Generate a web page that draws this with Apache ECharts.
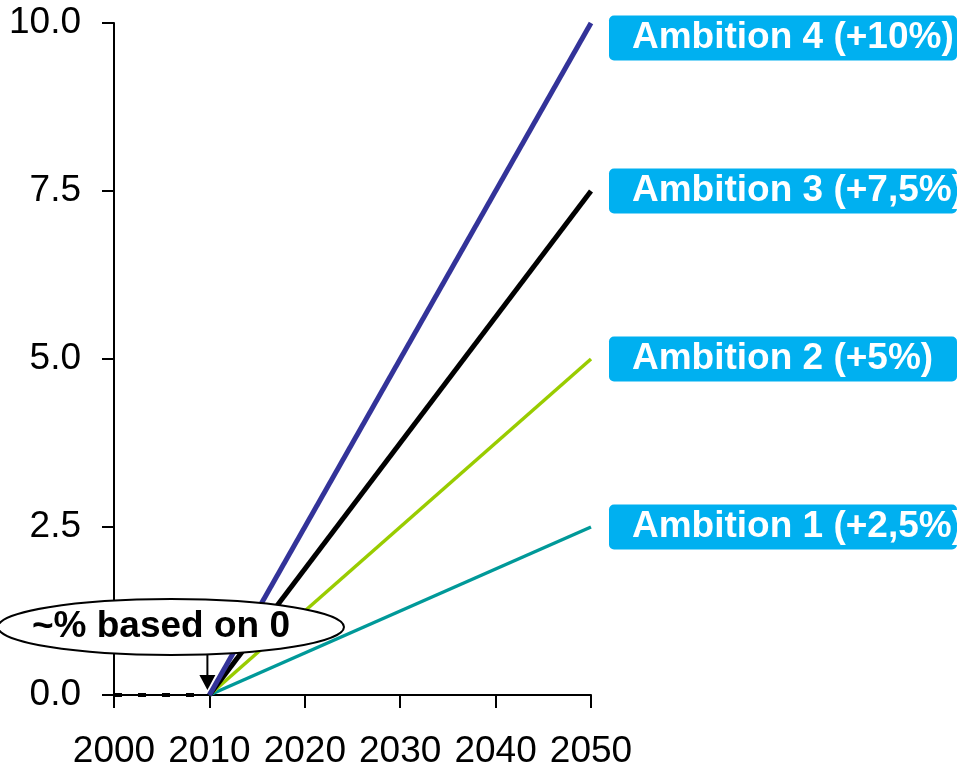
<!DOCTYPE html>
<html>
<head>
<meta charset="utf-8">
<script src="https://cdn.jsdelivr.net/npm/echarts@6/dist/echarts.min.js"></script>
<style>
  html, body { margin: 0; padding: 0; background: #fff; }
  #chart { width: 957px; height: 770px; }
</style>
</head>
<body>
<div id="chart"></div>
<script>
// Scenario endpoints: each ambition grows linearly from 0 in 2010
const startYear = 2010;
const endYear = 2050;
const ambitionNames = ['Ambition 1 (+2,5%)', 'Ambition 2 (+5%)', 'Ambition 3 (+7,5%)', 'Ambition 4 (+10%)'];
const ambitionEndValues = [2.5, 5, 7.5, 10];
const ambitionColors = ['#009999', '#99CC00', '#000000', '#333399'];
const ambitionWidths = [3.5, 3.5, 5, 5];
// Flat baseline before the start year
const baselineYears = [2000, 2010];
const baselineValues = [0, 0];
const xTicks = [2000, 2010, 2020, 2030, 2040, 2050];
const yTicks = [0, 2.5, 5, 7.5, 10];

const FONT = '"Liberation Sans", Arial, sans-serif';
const chart = echarts.init(document.getElementById('chart'));

const series = ambitionNames.map((name, i) => ({
  name,
  type: 'line',
  data: [[startYear, 0], [endYear, ambitionEndValues[i]]],
  symbol: 'none',
  lineStyle: { color: ambitionColors[i], width: ambitionWidths[i] },
  z: 3 + i,
  endLabel: {
    show: true,
    formatter: '{a}',
    distance: 18,
    offset: i === 3 ? [0, 15] : [0, 0],
    color: '#fff',
    fontFamily: FONT,
    fontWeight: 'bold',
    fontSize: 37,
    lineHeight: 37,
    backgroundColor: '#00B0F0',
    borderRadius: 5,
    padding: [5, 0, 3, 23],
    width: 325,
    align: 'left',
    overflow: 'none'
  }
}));

series.unshift({
  name: 'baseline',
  type: 'line',
  data: baselineYears.map((y, i) => [y, baselineValues[i]]),
  symbol: 'none',
  lineStyle: { color: '#000', width: 4, type: [8, 16] },
  z: 2
});

chart.setOption({
  animation: false,
  grid: { left: 114, right: 366, top: 23, bottom: 73, containLabel: false },
  xAxis: {
    type: 'value',
    min: xTicks[0],
    max: xTicks[xTicks.length - 1],
    interval: 10,
    axisLine: { show: true, onZero: false, lineStyle: { color: '#000', width: 2 } },
    axisTick: { show: true, length: 13, lineStyle: { color: '#000', width: 2 } },
    axisLabel: { color: '#000', fontFamily: FONT, fontSize: 37, margin: 38,
      formatter: v => String(v) },
    splitLine: { show: false }
  },
  yAxis: {
    type: 'value',
    min: yTicks[0],
    max: yTicks[yTicks.length - 1],
    interval: 2.5,
    axisLine: { show: true, lineStyle: { color: '#000', width: 2 } },
    axisTick: { show: true, length: 12, lineStyle: { color: '#000', width: 2 } },
    axisLabel: { color: '#000', fontFamily: FONT, fontSize: 37, margin: 33,
      formatter: v => v.toFixed(1) },
    splitLine: { show: false }
  },
  series
});

// Annotation: ellipse callout with an arrow pointing at the 2010 origin
const tip = chart.convertToPixel({ gridIndex: 0 }, [startYear, 0]);
chart.setOption({
  graphic: [
    {
      type: 'ellipse',
      shape: { cx: 171, cy: 627, rx: 173, ry: 28 },
      style: { fill: '#fff', stroke: '#000', lineWidth: 2 },
      z: 20
    },
    {
      type: 'text',
      x: 161, y: 627,
      style: {
        text: '~% based on 0', fill: '#000', fontFamily: FONT, fontWeight: 'bold',
        fontSize: 37, align: 'center', verticalAlign: 'middle'
      },
      z: 21
    },
    {
      type: 'line',
      shape: { x1: tip[0] - 2, y1: 655, x2: tip[0] - 2, y2: tip[1] - 18 },
      style: { stroke: '#000', lineWidth: 2 },
      z: 20
    },
    {
      type: 'polygon',
      shape: { points: [[tip[0] - 10, tip[1] - 20], [tip[0] + 6, tip[1] - 20], [tip[0] - 2, tip[1] - 5]] },
      style: { fill: '#000' },
      z: 20
    }
  ]
});
</script>
</body>
</html>
